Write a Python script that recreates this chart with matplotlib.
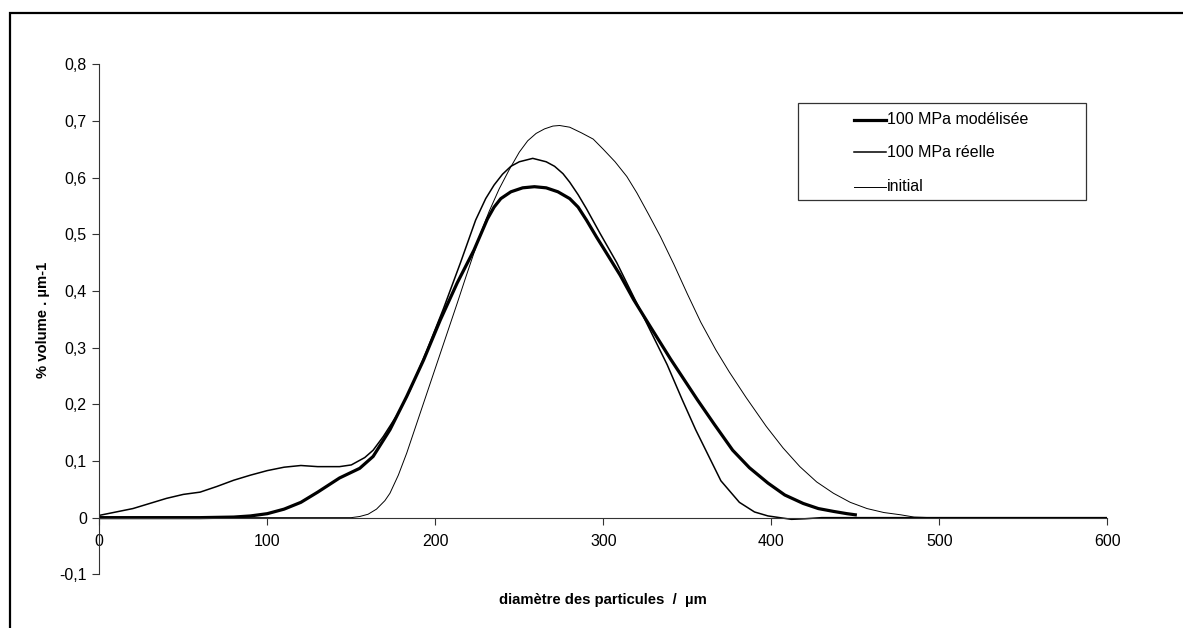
import matplotlib
matplotlib.use("Agg")
import matplotlib.pyplot as plt
from matplotlib.patches import Rectangle
from matplotlib.lines import Line2D
from matplotlib.ticker import FuncFormatter

plt.rcParams['font.family'] = ['Liberation Sans', 'DejaVu Sans']

# 100 MPa modélisée (thick)
mod_x = [0, 20, 40, 60, 80, 90, 100, 110, 120, 130, 143, 155, 163, 173, 183, 193, 203, 213, 223,
         231, 235, 239, 245, 252, 259, 266, 273, 280, 285, 290, 296, 300, 310, 318, 328, 340, 356,
         366, 377, 387, 398, 408, 419, 428, 437, 445, 450]
mod_y = [0, 0, 0, 0, 0.001, 0.003, 0.007, 0.015, 0.027, 0.045, 0.07, 0.087, 0.108, 0.155, 0.214,
         0.278, 0.349, 0.414, 0.472, 0.527, 0.548, 0.563, 0.575, 0.582, 0.584, 0.582, 0.575, 0.563,
         0.548, 0.525, 0.495, 0.476, 0.428, 0.385, 0.337, 0.28, 0.208, 0.165, 0.119, 0.088, 0.061,
         0.04, 0.025, 0.016, 0.011, 0.007, 0.005]

# 100 MPa réelle
reel_x = [0, 5, 10, 20, 30, 40, 50, 60, 70, 80, 90, 100, 110, 120, 130, 143, 150, 158, 163, 169,
          177, 185, 195, 205, 215, 224, 230, 235, 240, 245, 250, 258, 266, 271, 276, 280, 285, 290,
          298, 308, 318, 328, 338, 347, 355, 361, 370, 381, 390, 398, 405, 412, 420, 430, 500, 600]
reel_y = [0.004, 0.007, 0.01, 0.016, 0.025, 0.034, 0.041, 0.045, 0.055, 0.066, 0.075, 0.083, 0.089,
          0.092, 0.09, 0.09, 0.093, 0.106, 0.119, 0.143, 0.18, 0.225, 0.295, 0.37, 0.45, 0.525,
          0.563, 0.587, 0.606, 0.62, 0.628, 0.634, 0.628, 0.62, 0.607, 0.592, 0.57, 0.545, 0.502,
          0.45, 0.39, 0.33, 0.27, 0.208, 0.155, 0.119, 0.065, 0.027, 0.01, 0.003, 0, -0.003,
          -0.002, 0, 0, 0]

# initial
init_x = [0, 100, 150, 155, 160, 165, 170, 173, 178, 183, 188, 193, 198, 203, 208, 213, 218, 223,
          227, 232, 238, 244, 250, 255, 260, 265, 270, 274, 280, 287, 294, 300, 307, 314, 320, 327,
          334, 342, 350, 358, 367, 375, 385, 397, 407, 417, 427, 437, 447, 457, 467, 477, 485, 495,
          600]
init_y = [0, 0, 0, 0.002, 0.006, 0.015, 0.03, 0.043, 0.075, 0.114, 0.158, 0.202, 0.246, 0.29,
          0.334, 0.378, 0.423, 0.467, 0.502, 0.54, 0.58, 0.614, 0.645, 0.665, 0.678, 0.686, 0.691,
          0.692, 0.689, 0.679, 0.668, 0.65, 0.628, 0.602, 0.573, 0.535, 0.496, 0.447, 0.395, 0.345,
          0.296, 0.257, 0.212, 0.161, 0.123, 0.09, 0.063, 0.043, 0.027, 0.016, 0.009, 0.005, 0.001,
          0, 0]

series_labels = ['100 MPa modélisée', '100 MPa réelle', 'initial']
x_ticks = [0, 100, 200, 300, 400, 500, 600]
y_ticks = [-0.1, 0, 0.1, 0.2, 0.3, 0.4, 0.5, 0.6, 0.7, 0.8]

W, H = 1183, 628
fig = plt.figure(figsize=(W / 100, H / 100), dpi=100)
fig.patch.set_facecolor('white')

# outer chart frame (only top and left visible in the crop)
fig.patches.append(Rectangle((10 / W, -0.1), 1.2, 1 - 13 / H + 0.1, transform=fig.transFigure,
                             fill=False, edgecolor='black', linewidth=1.6, zorder=0))

ax = fig.add_axes([99.3 / W, 1 - 574.3 / H, 1008 / W, 510 / H])
ax.set_xlim(0, 600)
ax.set_ylim(-0.1, 0.8)

l1, = ax.plot(mod_x, mod_y, color='black', lw=2.3, solid_joinstyle='round')
l2, = ax.plot(reel_x, reel_y, color='black', lw=1.1, solid_joinstyle='round')
l3, = ax.plot(init_x, init_y, color='black', lw=0.7, solid_joinstyle='round')

for s in ['top', 'right']:
    ax.spines[s].set_visible(False)
ax.spines['bottom'].set_position(('data', 0))
ax.spines['left'].set_color('#333333')
ax.spines['bottom'].set_color('#333333')
ax.set_xticks(x_ticks)
ax.set_yticks(y_ticks)
ax.tick_params(axis='both', direction='out', length=5, width=0.8, colors='#333333',
               labelcolor='black', labelsize=11.5)
ax.tick_params(axis='x', pad=7)
ax.tick_params(axis='y', pad=4)
ax.yaxis.set_major_formatter(FuncFormatter(lambda v, p: ('%g' % round(v, 2)).replace('.', ',')))

fig.text(43 / W, 1 - 320 / H, '% volume . µm-1', rotation=90, ha='center', va='center',
         fontsize=10.7, fontweight='bold')
fig.text(603 / W, 1 - 600 / H, 'diamètre des particules  /  µm', ha='center', va='center',
         fontsize=10.7, fontweight='bold')

# legend box
fig.patches.append(Rectangle((798 / W, 1 - 200 / H), 288 / W, 97.3 / H, transform=fig.transFigure,
                             fill=False, edgecolor='#333333', linewidth=0.9))
rows = [120, 152.3, 186.7]
for line, lab, yy in zip([l1, l2, l3], series_labels, rows):
    fig.add_artist(Line2D([854 / W, 886 / W], [1 - yy / H, 1 - yy / H], transform=fig.transFigure,
                          color='black', lw=line.get_linewidth()))
    fig.text(887 / W, 1 - yy / H, lab, ha='left', va='center', fontsize=11.5)

fig.savefig('out.png', dpi=100)
